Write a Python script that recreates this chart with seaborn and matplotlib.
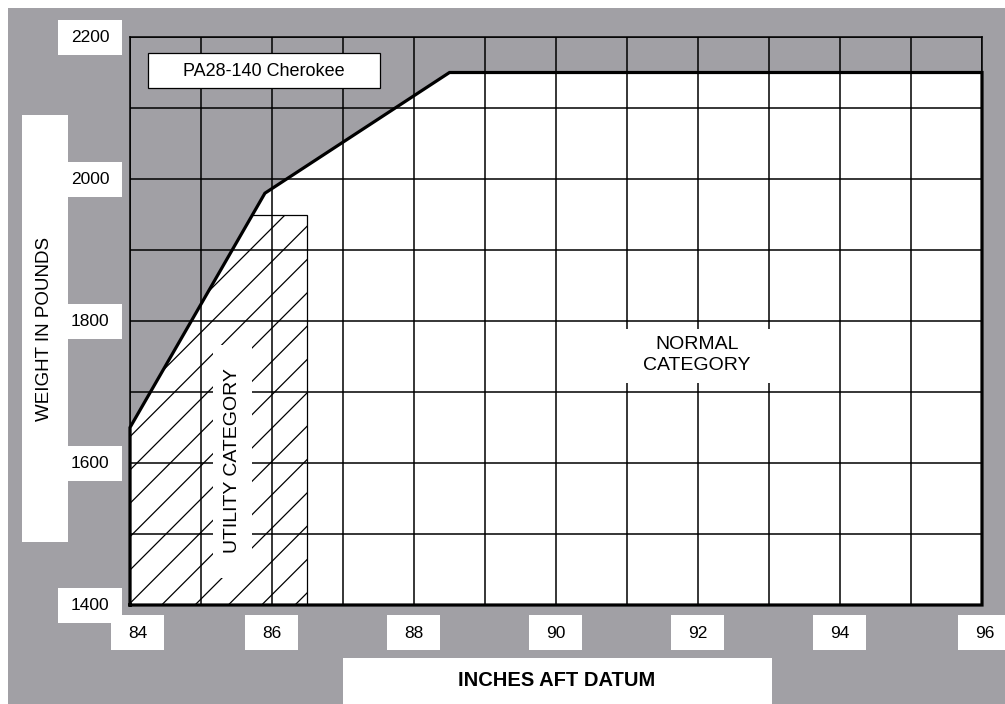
import numpy as np
import matplotlib
matplotlib.use("Agg")
import matplotlib.pyplot as plt
import seaborn as sns
from matplotlib.patches import Rectangle, Polygon

# ---------------- data ----------------
env_x = [84.0, 84.0, 85.9, 88.5, 96.0, 96.0, 84.0]          # CG envelope (inches aft datum)
env_y = [1400, 1650, 1980, 2150, 2150, 1400, 1400]          # weight (lb)
util_x = [84.0, 86.5]                                       # utility category CG range
util_y = [1400, 1950]                                       # utility category weight range
grid_x = list(range(84, 97, 1))
grid_y = list(range(1400, 2201, 100))
x_ticks = [84, 86, 88, 90, 92, 94, 96]
x_tick_labels = ["84", "86", "88", "90", "92", "94", "96"]
y_ticks = [1400, 1600, 1800, 2000, 2200]
y_tick_labels = ["1400", "1600", "1800", "2000", "2200"]
title_text = "PA28-140 Cherokee"
x_label = "INCHES AFT DATUM"
y_label = "WEIGHT IN POUNDS"
normal_label = "NORMAL\nCATEGORY"
utility_label = "UTILITY CATEGORY"

# ---------------- style ----------------
GRAY = "#a1a0a5"
W, H = 1005, 704
sns.set_theme(style="white")
plt.rcParams["font.family"] = ["Liberation Sans", "DejaVu Sans"]
plt.rcParams["hatch.linewidth"] = 0.9
plt.rcParams["hatch.color"] = "black"

fig = plt.figure(figsize=(W / 100, H / 100), dpi=100, facecolor="white")
fig.add_artist(Rectangle((8 / W, 0), 1 - 8 / W, 1 - 8 / H, transform=fig.transFigure,
                         facecolor=GRAY, edgecolor="none", zorder=-10))

ax = fig.add_axes([130 / W, (H - 605) / H, 852 / W, 568 / H])
ax.set_facecolor(GRAY)
ax.set_xlim(84, 96)
ax.set_ylim(1400, 2200)
ax.set_xticks(grid_x)
ax.set_yticks(grid_y)
ax.tick_params(length=0, labelbottom=False, labelleft=False)
ax.grid(True, color="black", lw=1.1)
ax.set_axisbelow(False)
for s in ax.spines.values():
    s.set_visible(True)
    s.set_color("black")
    s.set_linewidth(1.1)

env = Polygon(np.column_stack([env_x, env_y]), closed=True, facecolor="white",
              edgecolor="none", zorder=1)
ax.add_patch(env)
util = Rectangle((util_x[0], util_y[0]), util_x[1] - util_x[0], util_y[1] - util_y[0],
                 facecolor="white", edgecolor="black", lw=0.9, hatch="/", zorder=1.5)
ax.add_patch(util)
util.set_clip_path(env)

sns.lineplot(x=env_x, y=env_y, sort=False, estimator=None, color="black", lw=2.3, ax=ax, zorder=3)
ln = ax.lines[-1]
ln.set_clip_on(False)
ln.set_solid_capstyle("projecting")
ln.set_solid_joinstyle("miter")
ax.set_xlabel("")
ax.set_ylabel("")

# ---------------- overlay (pixel coordinates) ----------------
ov = fig.add_axes([0, 0, 1, 1], zorder=5)
ov.set_xlim(0, W)
ov.set_ylim(H, 0)
ov.axis("off")
ov.patch.set_alpha(0)


def px(x, y):
    d = ax.transData.transform((x, y))
    return d[0], H - d[1]


def box(x0, y0, x1, y1, ec="none", lw=0):
    ov.add_patch(Rectangle((x0, y0), x1 - x0, y1 - y0, facecolor="white",
                           edgecolor=ec, lw=lw))


# y axis label + ticks
box(22, 115, 68, 542)
ov.text(45, 329, y_label, rotation=90, ha="center", va="center", fontsize=13.5, color="black")
for v, lab in zip(y_ticks, y_tick_labels):
    _, py = px(84, v)
    box(58, py - 17.5, 122, py + 17.5)
    ov.text(90, py, lab, ha="center", va="center", fontsize=12.5, color="black")

# x ticks
x_off = {84: 8, 96: 3}
for v, lab in zip(x_ticks, x_tick_labels):
    pxx, _ = px(v, 1400)
    cx = pxx + x_off.get(v, 0)
    box(cx - 26.5, 615, cx + 26.5, 650)
    ov.text(cx, 633, lab, ha="center", va="center", fontsize=12.5, color="black")

# x axis label
box(343, 658, 772, 706)
ov.text(557, 681, x_label, ha="center", va="center", fontsize=14.5, fontweight="bold", color="black")

# title box
box(148, 53, 380, 88, ec="black", lw=0.9)
ov.text(264, 71, title_text, ha="center", va="center", fontsize=13, color="black")

# normal category
box(620, 329, 778, 383)
ov.text(697, 355, normal_label, ha="center", va="center", multialignment="center",
        fontsize=14, linespacing=1.3, color="black")

# utility category
box(213, 345, 252, 578)
ov.text(232.5, 461, utility_label, rotation=90, ha="center", va="center", fontsize=14, color="black")

fig.savefig("out.png", dpi=100, facecolor="white")
